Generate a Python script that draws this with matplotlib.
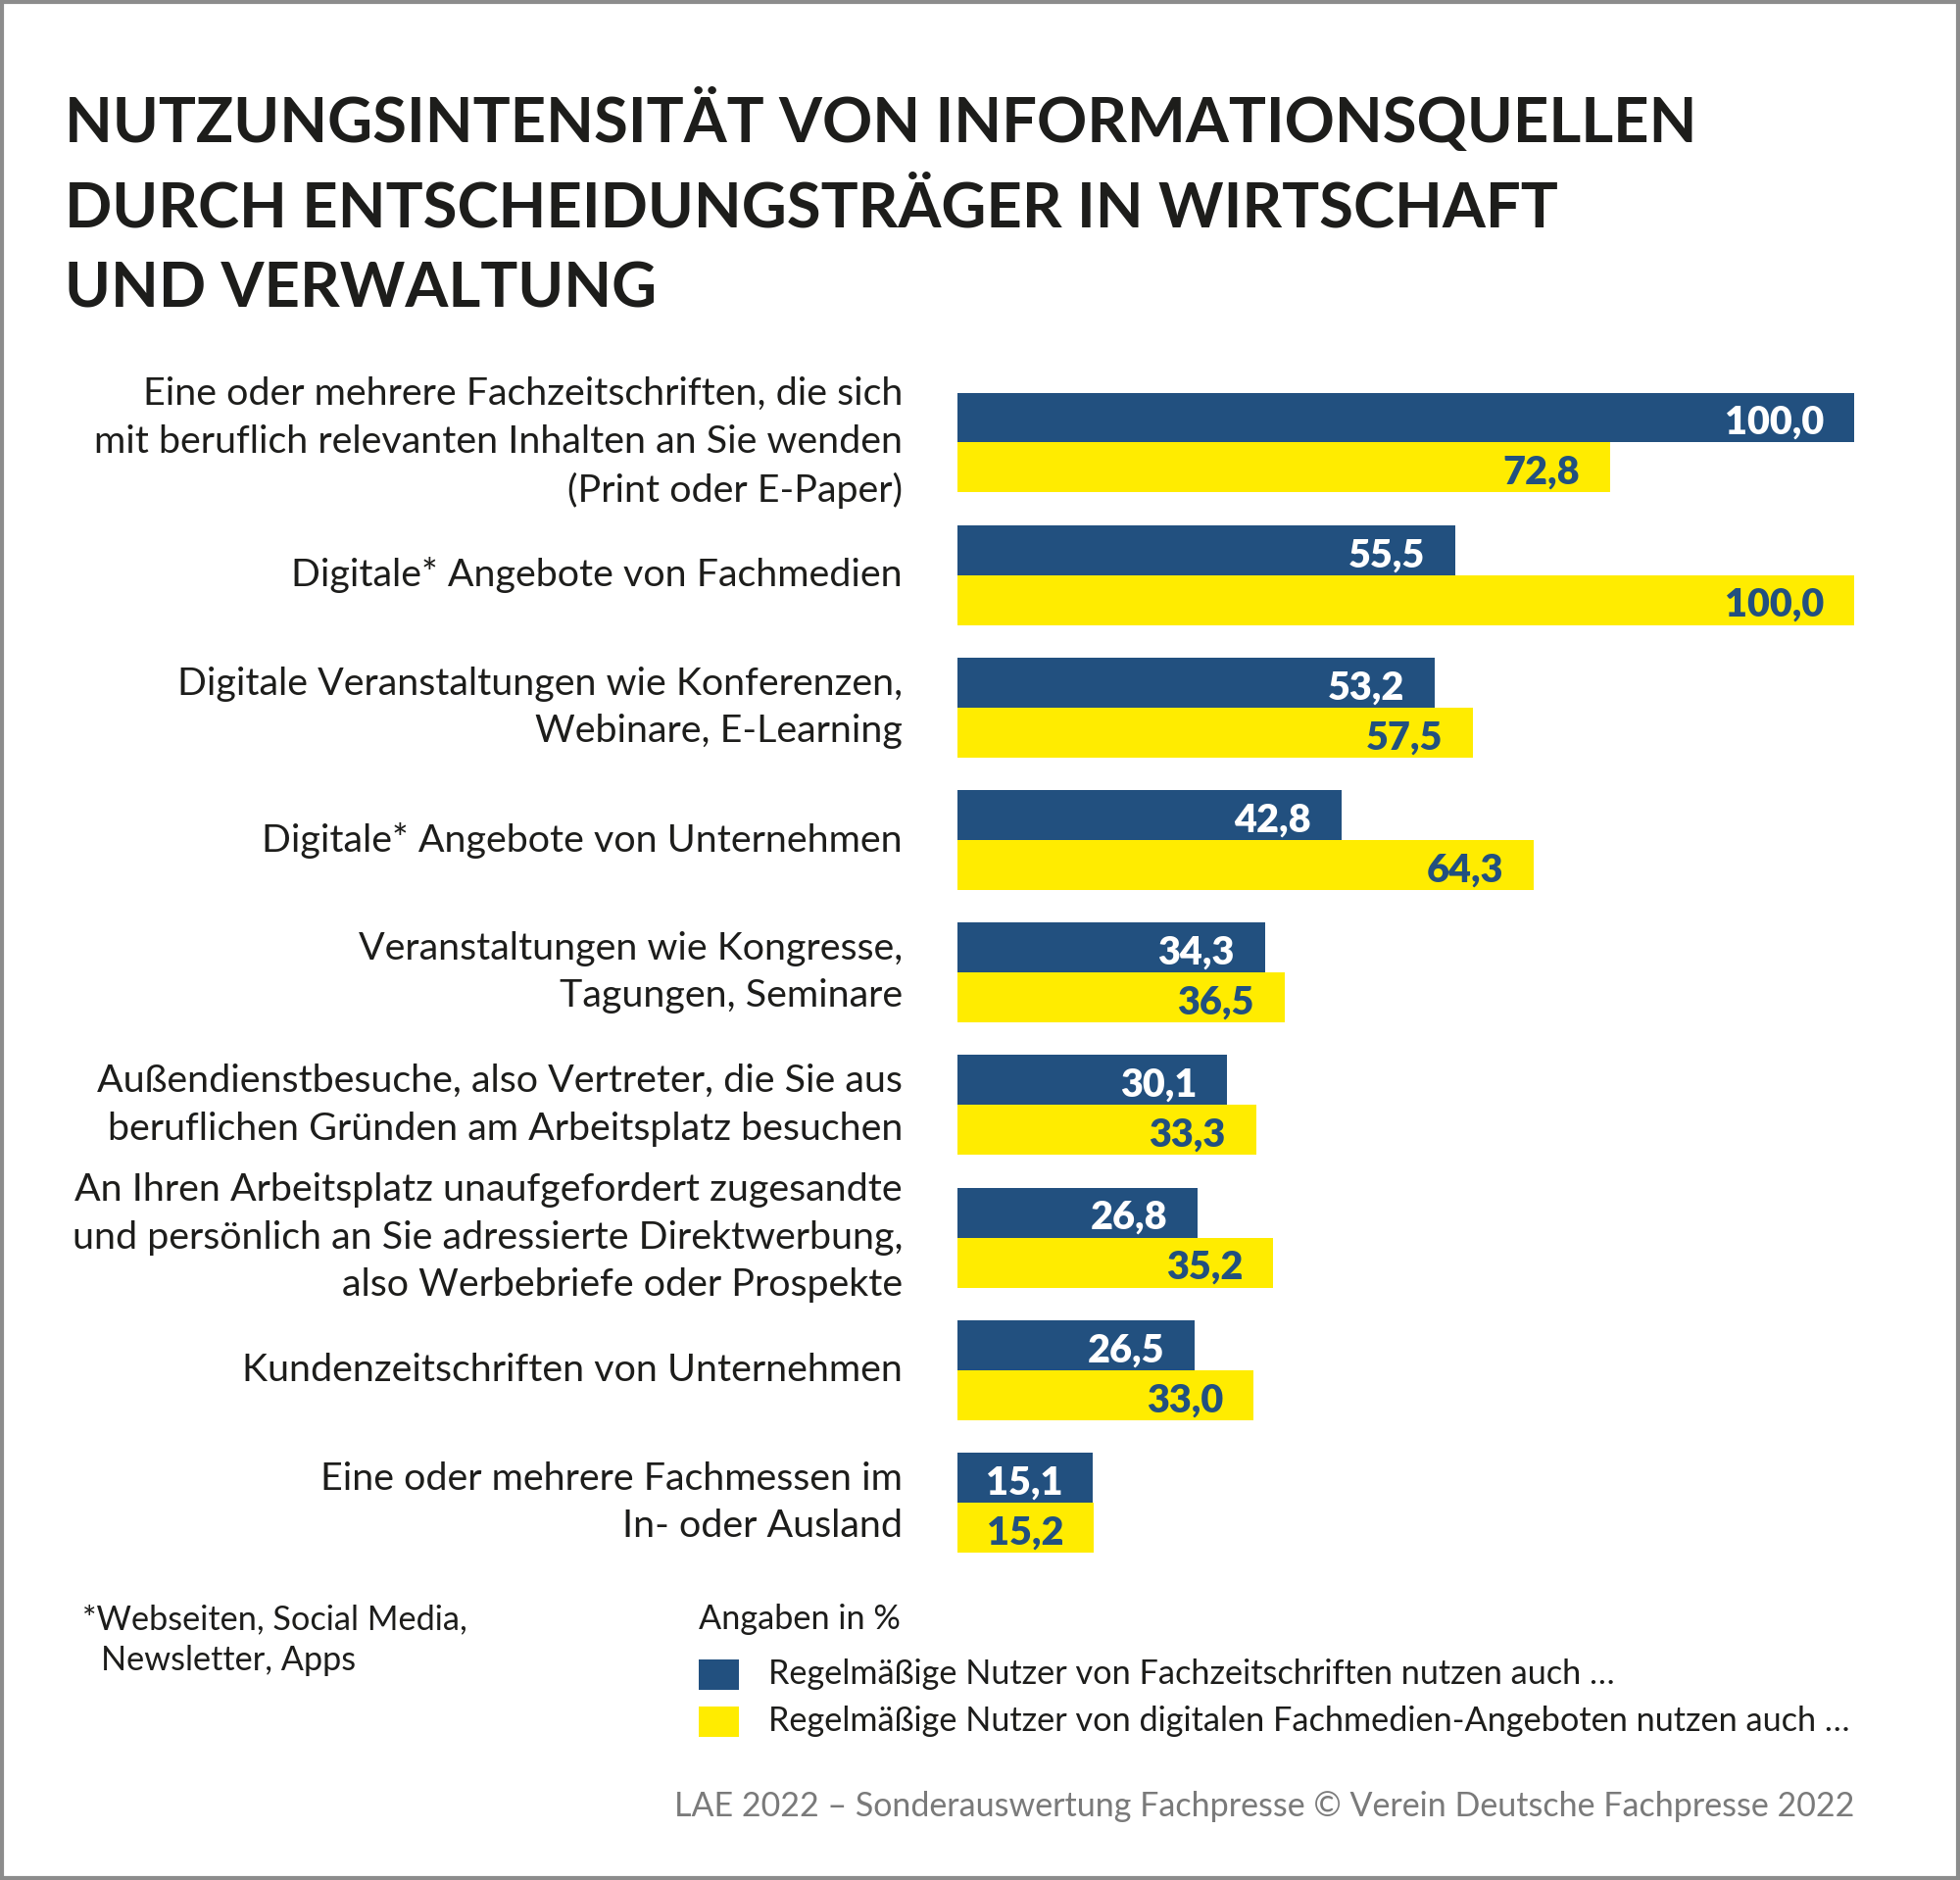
import matplotlib
matplotlib.use("Agg")
import matplotlib.pyplot as plt
from matplotlib.patches import Rectangle

# data
categories = [
    "Eine oder mehrere Fachzeitschriften, die sich\nmit beruflich relevanten Inhalten an Sie wenden\n(Print oder E-Paper)",
    "Digitale* Angebote von Fachmedien",
    "Digitale Veranstaltungen wie Konferenzen,\nWebinare, E-Learning",
    "Digitale* Angebote von Unternehmen",
    "Veranstaltungen wie Kongresse,\nTagungen, Seminare",
    "Außendienstbesuche, also Vertreter, die Sie aus\nberuflichen Gründen am Arbeitsplatz besuchen",
    "An Ihren Arbeitsplatz unaufgefordert zugesandte\nund persönlich an Sie adressierte Direktwerbung,\nalso Werbebriefe oder Prospekte",
    "Kundenzeitschriften von Unternehmen",
    "Eine oder mehrere Fachmessen im\nIn- oder Ausland",
]
fach = [100.0, 55.5, 53.2, 42.8, 34.3, 30.1, 26.8, 26.5, 15.1]
digital = [72.8, 100.0, 57.5, 64.3, 36.5, 33.3, 35.2, 33.0, 15.2]

title_lines = ["NUTZUNGSINTENSITÄT VON INFORMATIONSQUELLEN",
               "DURCH ENTSCHEIDUNGSTRÄGER IN WIRTSCHAFT",
               "UND VERWALTUNG"]
legend_labels = ["Regelmäßige Nutzer von Fachzeitschriften nutzen auch …",
                 "Regelmäßige Nutzer von digitalen Fachmedien-Angeboten nutzen auch …"]
footnote = ["*Webseiten, Social Media,", "Newsletter, Apps"]
unit_note = "Angaben in %"
source = "LAE 2022 – Sonderauswertung Fachpresse © Verein Deutsche Fachpresse 2022"

BLUE = "#22507f"
YELLOW = "#ffec00"
DARK = "#1d1d1b"
GREY = "#7a7a7a"

plt.rcParams['font.family'] = ['Lato', 'DejaVu Sans']

W, H = 2000, 1918
fig = plt.figure(figsize=(W / 100, H / 100), dpi=100)
fig.patch.set_facecolor("white")
renderer = fig.canvas.get_renderer()


def fx(px):
    return px / W


def fy(py):
    return 1 - py / H


def fit(t, width_px):
    w = t.get_window_extent(renderer).width
    t.set_fontsize(t.get_fontsize() * width_px / w)
    return t.get_fontsize()


# frame
fig.add_artist(Rectangle((0.001, 0.001), 0.998, 0.998, transform=fig.transFigure,
                         fill=False, edgecolor="#8c8c8c", linewidth=3))

# title
t = fig.text(fx(66), fy(145), title_lines[0], fontsize=40, fontweight="bold",
             color=DARK, va="baseline", ha="left")
tsize = fit(t, 1666)
fig.text(fx(66), fy(231), title_lines[1], fontsize=tsize, fontweight="bold",
         color=DARK, va="baseline", ha="left")
fig.text(fx(66), fy(314), title_lines[2], fontsize=tsize, fontweight="bold",
         color=DARK, va="baseline", ha="left")

# bars
b = 51 / 135.3
n = len(categories)
top, bottom = 400.5, 1584
ax = fig.add_axes([fx(977), fy(bottom), (1892 - 977) / W, (bottom - top) / H])
ax.set_xlim(0, 100)
ax.set_ylim(n - 1 + b, -b)
ax.axis("off")

ys = list(range(n))
ax.barh([y - b / 2 for y in ys], fach, height=b, color=BLUE, edgecolor="none")
ax.barh([y + b / 2 for y in ys], digital, height=b, color=YELLOW, edgecolor="none")

# value labels
probe = ax.text(0, 0, "100,0", fontsize=20, fontweight="heavy")
vsize = fit(probe, 101)
probe.remove()
pad = 31 / 915 * 100
off = 0.04
for y, v1, v2 in zip(ys, fach, digital):
    ax.text(v1 - pad, y - b / 2 + off, f"{v1:.1f}".replace(".", ","), ha="right", va="center",
            fontsize=vsize, fontweight="heavy", color="white")
    ax.text(v2 - pad, y + b / 2 + off, f"{v2:.1f}".replace(".", ","), ha="right", va="center",
            fontsize=vsize, fontweight="heavy", color=BLUE)

# category labels
probe = fig.text(0, 0, "mit beruflich relevanten Inhalten an Sie wenden", fontsize=20,
                 fontweight="normal")
lsize = fit(probe, 829)
probe.remove()
lx = (921 - 977) / 915 * 100
for y, c in zip(ys, categories):
    ax.text(lx, y, c, ha="right", va="center", fontsize=lsize, fontweight="normal",
            color=DARK, linespacing=1.43, clip_on=False, multialignment="right")

# footnote
t = fig.text(fx(84), fy(1662), footnote[0], fontsize=20, color=DARK, va="baseline")
fsize = fit(t, 394)
fig.text(fx(103), fy(1704), footnote[1], fontsize=fsize, color=DARK, va="baseline")

# legend
fig.text(fx(713), fy(1662), unit_note, fontsize=fsize, color=DARK, va="baseline")
fig.add_artist(Rectangle((fx(713), fy(1724)), 41 / W, 31 / H, transform=fig.transFigure,
                         facecolor=BLUE, edgecolor="none"))
fig.add_artist(Rectangle((fx(713), fy(1772)), 41 / W, 31 / H, transform=fig.transFigure,
                         facecolor=YELLOW, edgecolor="none"))
fig.text(fx(784), fy(1708), legend_labels[0], fontsize=fsize, color=DARK, va="center")
fig.text(fx(784), fy(1756), legend_labels[1], fontsize=fsize, color=DARK, va="center")

# source
t = fig.text(fx(1892), fy(1853), source, fontsize=20, color=GREY, va="baseline", ha="right")
fit(t, 1204)

fig.savefig("out.png", dpi=100, facecolor="white")
